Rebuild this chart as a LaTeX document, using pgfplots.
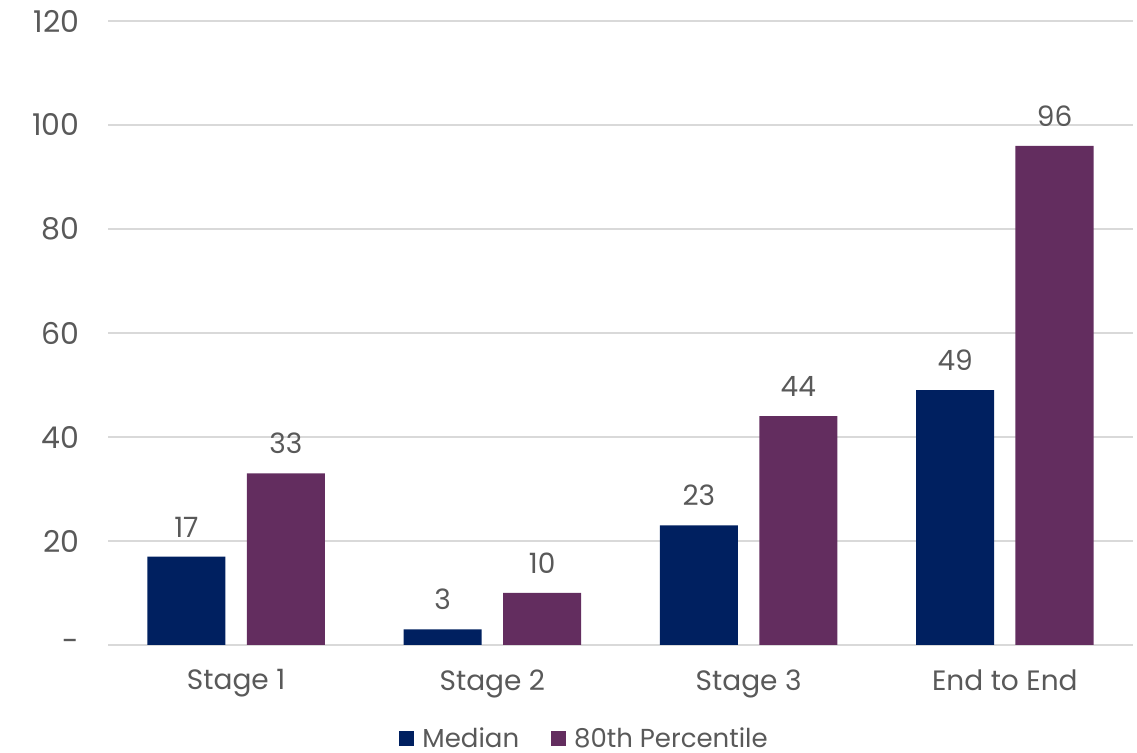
\documentclass[border=0pt]{standalone}
\usepackage{fontspec}
\setmainfont{Poppins}
\usepackage{pgfplots}
\pgfplotsset{compat=1.18}
\definecolor{navy}{HTML}{002060}
\definecolor{plum}{HTML}{632D5F}
\definecolor{txt}{HTML}{595959}
\definecolor{gridc}{HTML}{D9D9D9}
\begin{document}
\begin{tikzpicture}[x=1bp,y=1bp]
\useasboundingbox (0,0) rectangle (1137,753);
\begin{axis}[
  at={(108bp,108bp)}, anchor=south west,
  scale only axis, width=1025bp, height=624bp,
  ybar, bar width=0.305,
  xmin=-0.5, xmax=3.5, ymin=0, ymax=120,
  xtick={0,1,2,3}, xticklabels={Stage 1,Stage 2,Stage 3,End to End},
  ytick={0,20,40,60,80,100,120}, yticklabels={-,20,40,60,80,100,120},
  axis line style={draw=none}, major tick length=0pt,
  ymajorgrids, grid style={gridc, line width=1.5bp},
  tick label style={text=txt, font=\fontsize{28bp}{32bp}\selectfont},
  yticklabel style={xshift=-25bp, font=\fontsize{30bp}{34bp}\selectfont},
  xticklabel style={yshift=-21bp},
  /pgf/number format/assume math mode=true,
  nodes near coords,
  every node near coord/.append style={text=txt, font=\fontsize{28bp}{32bp}\selectfont, yshift=16bp},
  legend style={at={(0.464,-0.150)}, anchor=center, draw=none, legend columns=2,
    font=\fontsize{26bp}{30bp}\selectfont, text=txt,
    /tikz/every odd column/.append style={column sep=8bp},
    /tikz/every even column/.append style={column sep=32bp},
    nodes={inner sep=0pt}},
  legend image code/.code={\fill[#1] (0bp,-7bp) rectangle (15bp,8bp);},
]
\addplot[fill=navy, draw=none, bar shift=-0.194] coordinates {(0,17) (1,3) (2,23) (3,49)};
\addlegendentry{Median}
\addplot[fill=plum, draw=none, bar shift=0.194] coordinates {(0,33) (1,10) (2,44) (3,96)};
\addlegendentry{80th Percentile}
\end{axis}
\end{tikzpicture}
\end{document}
